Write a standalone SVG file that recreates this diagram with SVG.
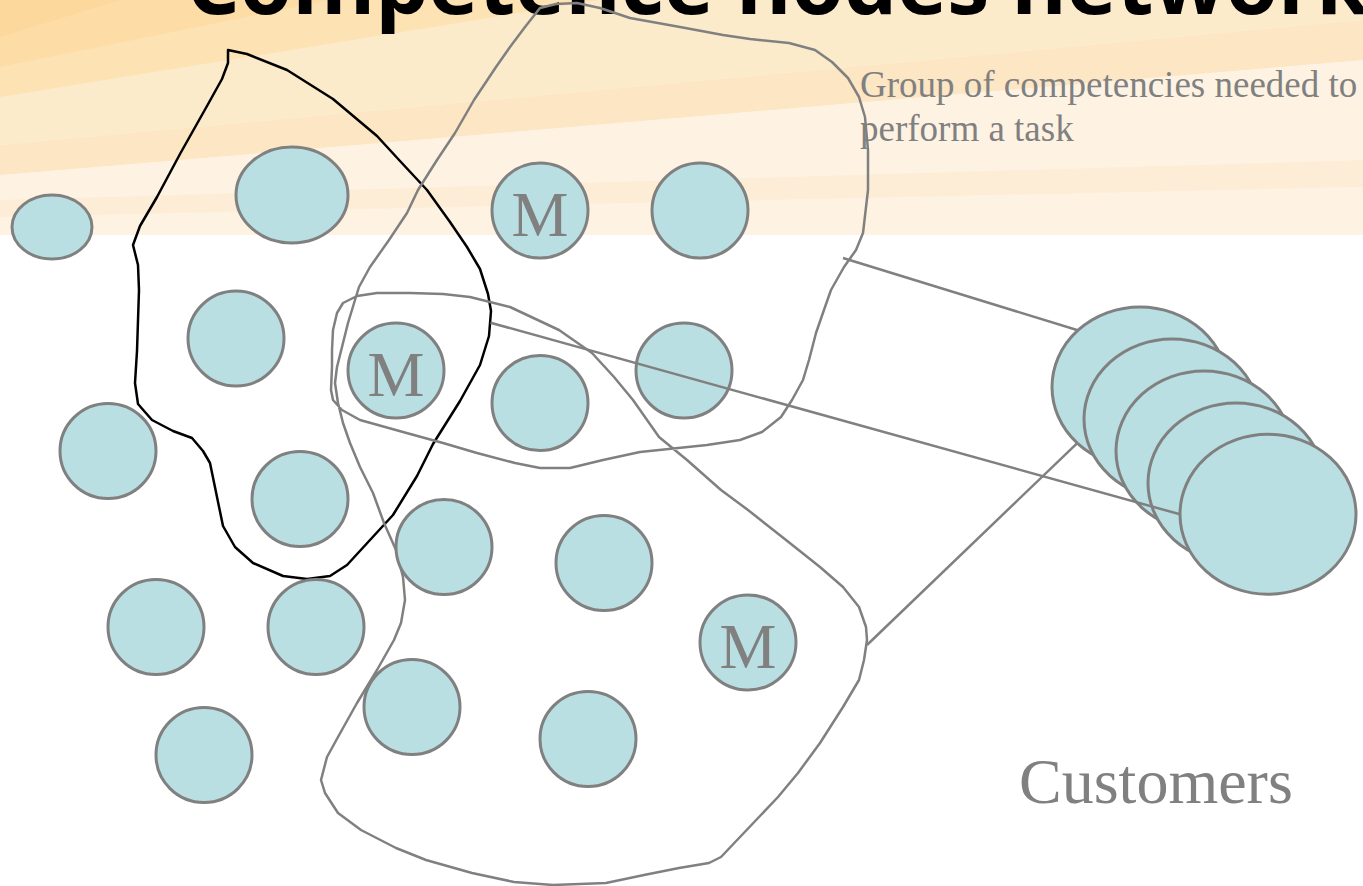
<svg xmlns="http://www.w3.org/2000/svg" width="1363" height="886" viewBox="0 0 1363 886">
<style>
.node{fill:#B9DFE2;stroke:#808080;stroke-width:3}
.blob{fill:none;stroke:#808080;stroke-width:2.5;stroke-linejoin:round}
.blobk{fill:none;stroke:#000;stroke-width:2.5;stroke-linejoin:round}
.conn{stroke:#808080;stroke-width:2.5;fill:none}
.m{font-family:"Liberation Serif","Times New Roman",serif;font-size:64px;fill:#808080;text-anchor:middle}
.lbl{font-family:"Liberation Serif","Times New Roman",serif;fill:#808080}
</style>
<rect width="1363" height="886" fill="#ffffff"/>
<g id="background">
<rect x="0" y="0" width="1363" height="235" fill="#FEF3E3"/>
<polygon points="0,0 1363,0 1363,20 0,145" fill="#FCEBCB"/>
<polygon points="0,145 1363,20 1363,60 0,175" fill="#FCE6C3"/>
<polygon points="0,200 1363,160 1363,187 0,217" fill="#FDEDD6"/>
<polygon points="0,0 600,0 0,97" fill="#FDE2B4"/>
<polygon points="0,0 330,0 0,67" fill="#FDDCA6"/>
<polygon points="0,0 120,0 0,37" fill="#FCD89C"/>
</g>
<text id="title" x="186" y="14" font-family="'Open Sans','Liberation Sans',sans-serif" font-weight="700" font-size="84.5" fill="#000">Competence nodes network</text>
<g id="groups">
<path id="group-black" class="blobk" d="M228,50 L228,63 L222,79 L207,106 L180,154 L157,197 L140,226 L133,245 L138,265 L139,290 L137,351 L135,383 L138,404 L152,420 L173,431 L192,438 L203,451 L210,463 L217,497 L223,526 L235,547 L253,563 L283,576 L307,579 L330,576 L347,565 L370,540 L393,515 L417,476 L433,444 L460,401 L480,365 L489,336 L491,311 L488,294 L480,269 L467,247 L450,222 L427,190 L400,161 L377,136 L333,99 L287,70 L247,54 Z"/>
<path id="group-gray" class="blob" d="M540,8 L556,4 L577,3 L600,8 L630,18 L680,27 L723,35 L750,39 L789,43 L815,50 L832,62 L848,78 L859,97 L865,117 L868,150 L868,190 L863,233 L856,250 L844,267 L831,290 L825,307 L816,333 L809,360 L803,380 L792,400 L781,417 L762,432 L740,440 L707,445 L640,452 L603,460 L570,468 L540,468 L515,463 L477,453 L443,443 L403,432 L360,420 L342,410 L333,400 L331,390 L332,367 L332,350 L333,330 L337,313 L343,303 L357,296 L377,293 L410,293 L443,294 L470,297 L510,307 L559,330 L592,353 L614,377 L633,400 L659,437 L687,460 L721,490 L748,510 L786,540 L820,567 L843,587 L859,607 L866,627 L867,640 L864,660 L859,680 L843,707 L820,743 L798,773 L778,797 L759,817 L740,837 L721,857 L709,863 L679,868 L644,875 L606,883 L553,885 L514,882 L472,873 L426,860 L396,848 L361,830 L338,813 L325,793 L321,780 L327,757 L338,737 L357,703 L377,670 L394,640 L401,623 L405,600 L403,577 L396,550 L384,523 L373,493 L360,467 L350,443 L343,423 L338,403 L335,383 L337,367 L342,347 L348,323 L355,300 L359,287 L370,267 L389,240 L407,213 L418,190 L437,160 L455,133 L474,100 L496,67 L510,47 L525,27 Z"/>
</g>
<g id="nodes">
<g id="n1"><ellipse class="node" cx="52" cy="227" rx="40" ry="32"/></g>
<g id="n2"><ellipse class="node" cx="292" cy="195" rx="56" ry="48"/></g>
<g id="n3"><ellipse class="node" cx="540" cy="210.5" rx="48" ry="47.5"/><text class="m" x="540" y="236">M</text></g>
<g id="n4"><ellipse class="node" cx="700" cy="210.5" rx="48" ry="47.5"/></g>
<g id="n5"><ellipse class="node" cx="236" cy="338.5" rx="48" ry="47.5"/></g>
<g id="n6"><ellipse class="node" cx="396" cy="370.5" rx="48" ry="47.5"/><text class="m" x="396" y="396">M</text></g>
<g id="n7"><ellipse class="node" cx="540" cy="403" rx="48" ry="47.5"/></g>
<g id="n8"><ellipse class="node" cx="684" cy="370.5" rx="48" ry="47.5"/></g>
<g id="n9"><ellipse class="node" cx="108" cy="451" rx="48" ry="47.5"/></g>
<g id="n10"><ellipse class="node" cx="300" cy="499" rx="48" ry="47.5"/></g>
<g id="n11"><ellipse class="node" cx="444" cy="547" rx="48" ry="47.5"/></g>
<g id="n12"><ellipse class="node" cx="604" cy="563" rx="48" ry="47.5"/></g>
<g id="n13"><ellipse class="node" cx="748" cy="642.5" rx="48" ry="47.5"/><text class="m" x="748" y="668">M</text></g>
<g id="n14"><ellipse class="node" cx="156" cy="627" rx="48" ry="47.5"/></g>
<g id="n15"><ellipse class="node" cx="316" cy="627" rx="48" ry="47.5"/></g>
<g id="n16"><ellipse class="node" cx="412" cy="707" rx="48" ry="47.5"/></g>
<g id="n17"><ellipse class="node" cx="588" cy="739" rx="48" ry="47.5"/></g>
<g id="n18"><ellipse class="node" cx="204" cy="755" rx="48" ry="47.5"/></g>
<g id="c1"><ellipse class="node" cx="1140" cy="387" rx="88" ry="80"/></g>
<g id="c2"><ellipse class="node" cx="1172" cy="419" rx="88" ry="80"/></g>
<g id="c3"><ellipse class="node" cx="1204" cy="451" rx="88" ry="80"/></g>
<g id="c4"><ellipse class="node" cx="1236" cy="483" rx="88" ry="80"/></g>
</g>
<g id="connectors">
<line class="conn" x1="843" y1="258" x2="1077" y2="330"/>
<line class="conn" x1="490.5" y1="322.7" x2="1180" y2="514.3"/>
<line class="conn" x1="867" y1="645" x2="1077" y2="443.3"/>
</g>
<g id="c5"><ellipse class="node" cx="1268" cy="514.3" rx="88" ry="80"/></g>
<g id="label-group">
<text class="lbl" font-size="37" x="860" y="97">Group of competencies needed to</text>
<text class="lbl" font-size="37" x="860" y="141">perform a task</text>
</g>
<text id="label-customers" class="lbl" font-size="64" x="1019" y="803">Customers</text>
</svg>
